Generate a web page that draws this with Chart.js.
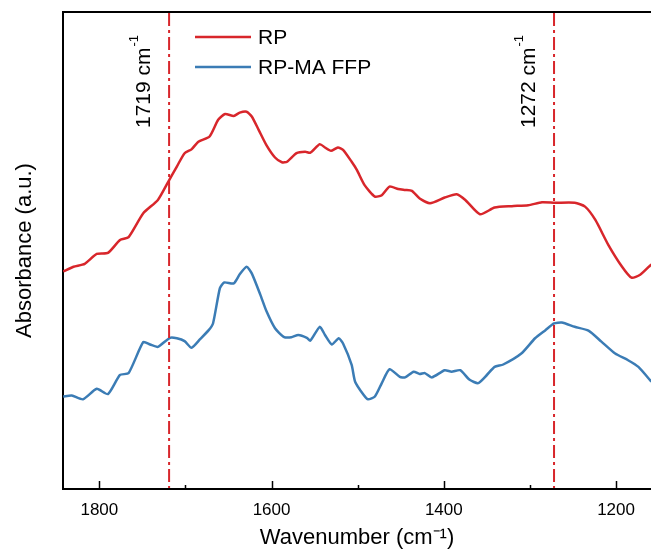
<!DOCTYPE html>
<html>
<head>
<meta charset="utf-8">
<script src="https://cdn.jsdelivr.net/npm/chart.js@4.4.1/dist/chart.umd.min.js"></script>
<style>
    html, body { margin: 0; padding: 0; background: #fff; overflow: hidden; }
</style>
</head>
<body>
<canvas id="graficoFTIR" width="651" height="553"></canvas>
<script>
const ondaRP = [1842, 1830, 1817, 1803, 1790, 1776, 1766, 1749, 1732, 1720, 1710, 1701, 1693, 1685, 1672, 1662, 1654, 1644, 1637, 1629, 1623, 1615, 1606, 1596, 1588, 1582, 1571, 1561, 1555, 1544, 1538, 1531, 1523, 1517, 1507, 1501, 1492, 1480, 1472, 1463, 1453, 1445, 1437, 1428, 1416, 1399, 1385, 1375, 1358, 1341, 1321, 1302, 1286, 1271, 1248, 1236, 1224, 1209, 1193, 1182, 1172, 1159];
const absRP = [45.6, 46.6, 47.2, 49.3, 49.5, 52.2, 52.8, 57.8, 60.6, 64.4, 67.6, 70.4, 71.2, 72.8, 73.9, 77.4, 78.6, 78.2, 78.9, 79.1, 78.1, 75.3, 72.1, 69.5, 68.5, 68.6, 70.4, 70.7, 70.5, 72.3, 71.6, 70.9, 71.6, 71.1, 68.6, 66.9, 63.7, 61.3, 61.6, 63.4, 62.9, 62.7, 62.5, 60.9, 59.9, 61.1, 61.8, 60.6, 57.6, 59.0, 59.3, 59.5, 60.1, 60.0, 60.0, 59.2, 56.4, 51.2, 46.6, 44.3, 44.9, 47.1];

const ondaFFP = [1842, 1832, 1819, 1803, 1790, 1776, 1766, 1749, 1741, 1732, 1718, 1710, 1701, 1693, 1683, 1673, 1668, 1660, 1655, 1644, 1637, 1629, 1623, 1613, 1606, 1596, 1586, 1577, 1569, 1559, 1555, 1544, 1538, 1530, 1522, 1517, 1507, 1503, 1493, 1488, 1480, 1472, 1463, 1451, 1445, 1435, 1428, 1422, 1414, 1399, 1391, 1381, 1370, 1360, 1350, 1341, 1331, 1310, 1294, 1282, 1272, 1263, 1248, 1232, 1217, 1201, 1186, 1174, 1159];
const absFFP = [19.4, 19.6, 18.8, 21.0, 19.9, 23.9, 24.3, 30.8, 30.3, 29.8, 31.7, 31.6, 31.0, 29.6, 31.4, 33.3, 34.7, 42.1, 43.3, 43.1, 45.0, 46.6, 45.2, 40.7, 37.3, 33.7, 31.9, 31.8, 32.3, 31.7, 31.1, 34.0, 32.3, 30.3, 31.6, 30.5, 26.0, 22.5, 19.7, 18.8, 19.4, 22.2, 25.1, 23.5, 23.4, 24.6, 24.1, 24.3, 23.4, 24.9, 24.6, 24.9, 22.9, 22.2, 23.9, 25.6, 26.1, 28.4, 31.6, 33.3, 34.7, 34.9, 34.0, 33.2, 30.9, 28.4, 27.0, 25.6, 22.5];

const nomesSeries = ['RP', 'RP-MA FFP'];
const ticksX = [1800, 1600, 1400, 1200];
const ticksMenores = [1700, 1500, 1300];
const picos = [1719, 1272];
const rotulosPicos = ['1719 cm', '1272 cm'];

const corRP = '#d8262b';
const corFFP = '#3b7cb5';
const fonte = '"Liberation Sans", Arial, sans-serif';

function pontos(xs, ys) {
    return xs.map((x, i) => ({ x: x, y: ys[i] }));
}

// Plugin para moldura superior, ticks internos, linhas dos picos e legenda
const pluginExtras = {
    id: 'extras',
    afterDraw(chart) {
        const { ctx, chartArea: a, scales: { x } } = chart;
        ctx.save();

        // borda superior
        ctx.strokeStyle = '#000';
        ctx.lineWidth = 2;
        ctx.beginPath();
        ctx.moveTo(a.left - 1, a.top);
        ctx.lineTo(a.right + 2, a.top);
        ctx.stroke();

        // ticks para dentro
        ctx.lineWidth = 1.5;
        ticksX.forEach(v => {
            const px = Math.round(x.getPixelForValue(v)) + 0.5;
            ctx.beginPath(); ctx.moveTo(px, a.bottom); ctx.lineTo(px, a.bottom - 8); ctx.stroke();
        });
        ticksMenores.forEach(v => {
            const px = Math.round(x.getPixelForValue(v)) + 0.5;
            ctx.beginPath(); ctx.moveTo(px, a.bottom); ctx.lineTo(px, a.bottom - 4); ctx.stroke();
        });

        // linhas tracejadas dos picos
        ctx.strokeStyle = corRP;
        ctx.lineWidth = 2;
        ctx.setLineDash([13, 4, 3, 4]);
        picos.forEach(v => {
            const px = x.getPixelForValue(v);
            ctx.beginPath(); ctx.moveTo(px, a.top + 1); ctx.lineTo(px, a.bottom - 1); ctx.stroke();
        });
        ctx.setLineDash([]);

        // rótulos verticais dos picos
        ctx.fillStyle = '#000';
        picos.forEach((v, i) => {
            const px = x.getPixelForValue(v);
            ctx.save();
            ctx.translate(px - 19, 128);
            ctx.rotate(-Math.PI / 2);
            ctx.textBaseline = 'alphabetic';
            ctx.textAlign = 'left';
            ctx.font = '21px ' + fonte;
            ctx.fillText(rotulosPicos[i], 0, 0);
            const w = ctx.measureText(rotulosPicos[i]).width;
            ctx.font = '13px ' + fonte;
            ctx.fillText('-1', w + 1, -12);
            ctx.restore();
        });

        // legenda
        const itens = [
            { nome: nomesSeries[0], cor: corRP, y: 37 },
            { nome: nomesSeries[1], cor: corFFP, y: 67 }
        ];
        itens.forEach(it => {
            ctx.strokeStyle = it.cor;
            ctx.lineWidth = 2.5;
            ctx.beginPath(); ctx.moveTo(195, it.y); ctx.lineTo(251, it.y); ctx.stroke();
            ctx.fillStyle = '#000';
            ctx.font = '21px ' + fonte;
            ctx.textBaseline = 'middle';
            ctx.textAlign = 'left';
            ctx.fillText(it.nome, 258, it.y + 1);
        });

        ctx.restore();
    }
};

const ctx = document.getElementById('graficoFTIR').getContext('2d');
new Chart(ctx, {
    type: 'line',
    data: {
        datasets: [
            {
                label: nomesSeries[0],
                data: pontos(ondaRP, absRP),
                borderColor: corRP,
                borderWidth: 2.5,
                pointRadius: 0,
                tension: 0.2,
                fill: false
            },
            {
                label: nomesSeries[1],
                data: pontos(ondaFFP, absFFP),
                borderColor: corFFP,
                borderWidth: 2.5,
                pointRadius: 0,
                tension: 0.2,
                fill: false
            }
        ]
    },
    options: {
        responsive: false,
        devicePixelRatio: 1,
        animation: false,
        layout: { padding: { top: 12, right: 0, left: 0, bottom: 0 } },
        plugins: { legend: { display: false }, tooltip: { enabled: false } },
        scales: {
            x: {
                type: 'linear',
                reverse: true,
                min: 1159.4,
                max: 1842.2,
                afterBuildTicks: (s) => { s.ticks = ticksX.map(v => ({ value: v })); },
                afterFit: (s) => { s.height = 64; },
                grid: { display: false, drawTicks: false },
                border: { display: true, color: '#000', width: 2 },
                ticks: {
                    color: '#000',
                    font: { family: fonte, size: 17 },
                    padding: 11,
                    maxRotation: 0,
                    callback: (v) => String(v)
                },
                title: {
                    display: true,
                    text: 'Wavenumber (cm⁻¹)',
                    color: '#000',
                    font: { family: fonte, size: 22 },
                    padding: { top: 0, bottom: 2 }
                }
            },
            y: {
                min: 0,
                max: 100,
                afterFit: (s) => { s.width = 63; },
                grid: { display: false, drawTicks: false },
                border: { display: true, color: '#000', width: 2 },
                ticks: { display: false },
                title: {
                    display: true,
                    text: 'Absorbance (a.u.)',
                    color: '#000',
                    font: { family: fonte, size: 22 },
                    padding: { top: 12, bottom: 0 }
                }
            }
        }
    },
    plugins: [pluginExtras]
});
</script>
</body>
</html>
